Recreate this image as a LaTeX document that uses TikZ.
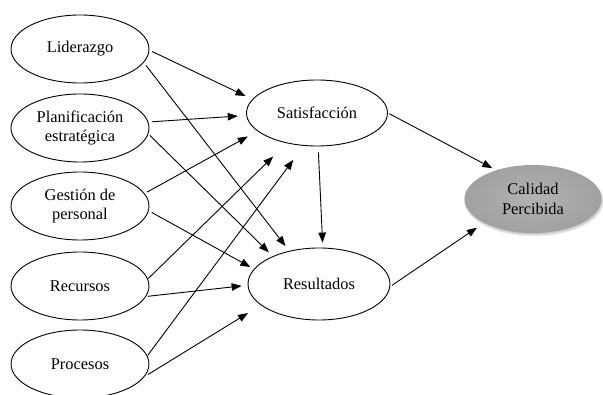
\documentclass[tikz,border=0pt]{standalone}
\usepackage{fontspec}
\setmainfont{Liberation Serif}
\usetikzlibrary{shapes.geometric,arrows.meta,shadows.blur}
\begin{document}
\begin{tikzpicture}[x=1pt,y=1pt,
  every node/.style={font=\fontsize{16.4}{19.5}\selectfont, align=center},
  oval/.style={ellipse, draw=black, line width=0.9pt, inner sep=0pt, minimum width=138pt, minimum height=68pt},
  midoval/.style={ellipse, draw=black, line width=0.9pt, inner sep=0pt, minimum width=141pt, minimum height=66pt},
  goal/.style={ellipse, inner sep=0pt, minimum width=137pt, minimum height=68pt,
    inner color=black!30, outer color=black!37, blur shadow={shadow blur steps=8, shadow xshift=1pt, shadow yshift=-2pt, shadow opacity=25}},
  link/.style={line width=0.9pt, -{Triangle[length=10pt,width=7.5pt]}}
]
\useasboundingbox (0,0) rectangle (603,394);
\node[oval] (lid) at (80,345) {Liderazgo};
\node[oval] (plan) at (80,266) {Planificación\\estratégica};
\node[oval] (gest) at (80,188) {Gestión de\\personal};
\node[oval] (rec) at (80,108) {Recursos};
\node[oval] (proc) at (80,30) {Procesos};
\node[midoval] (sat) at (317,281) {Satisfacción};
\node[midoval, minimum width=142pt, minimum height=72pt] (res) at (319,110) {Resultados};
\node[goal] (cal) at (533,195) {Calidad\\Percibida};

\draw[link, shorten <=3pt, shorten >=7.5pt] (lid.-1) -- (sat.168);
\draw[link, shorten <=3.5pt, shorten >=6pt] (lid.-12) -- (res.132.6);
\draw[link, shorten <=3.5pt, shorten >=8.5pt] (plan.5.6) -- (sat.182);
\draw[link, shorten <=2pt, shorten >=5.5pt] (plan.-5.7) -- (res.149.5);
\draw[link, shorten <=2.8pt, shorten >=11pt] (gest.11) -- (sat.197.7);
\draw[link, shorten <=3.5pt, shorten >=4pt] (gest.-4.8) -- (res.167.7);
\draw[link, shorten <=0.5pt, shorten >=19pt] (rec.6.7) -- (sat.225.7);
\draw[link, shorten <=1.5pt, shorten >=6pt] (rec.-9.3) -- (res.181.5);
\draw[link, shorten <=0.6pt, shorten >=17.5pt] (proc.7.5) -- (sat.248.8);
\draw[link, shorten <=4pt, shorten >=15pt] (proc.-11.6) -- (res.200.8);
\draw[link, shorten <=6pt, shorten >=5pt] (sat.-88.5) -- (res.84.4);
\draw[link, shorten <=1.5pt, shorten >=4.3pt] (sat.0) -- (cal.142.9);
\draw[link, shorten <=2pt, shorten >=8.5pt] (res.-2.4) -- (cal.206.6);
\end{tikzpicture}
\end{document}
